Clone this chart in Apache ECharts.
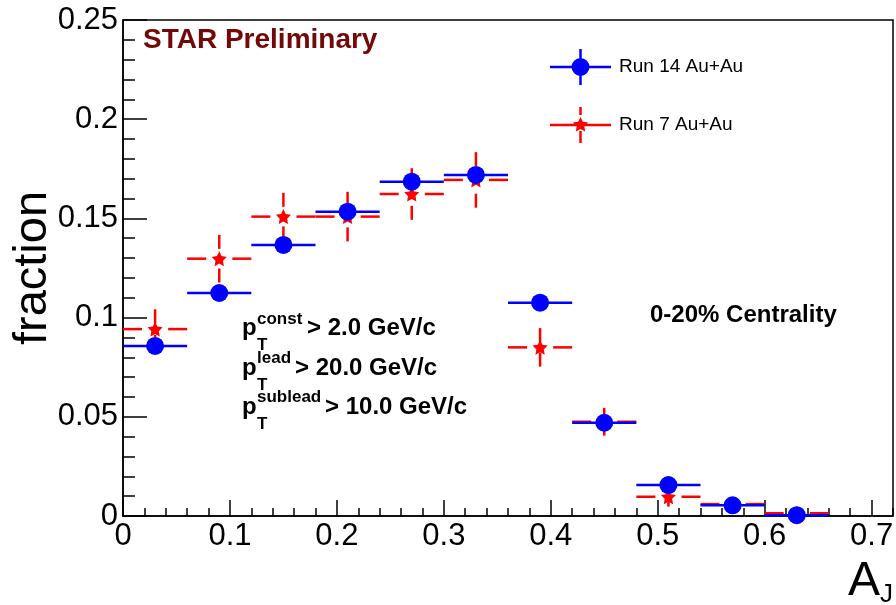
<!DOCTYPE html>
<html>
<head>
<meta charset="utf-8">
<script src="https://cdn.jsdelivr.net/npm/echarts@6/dist/echarts.min.js"></script>
<style>
html,body{margin:0;padding:0;background:#fff;}
#chart{width:896px;height:605px;}
</style>
</head>
<body>
<div id="chart"></div>
<script>
// ---- data ----
const binCenters = [0.03, 0.09, 0.15, 0.21, 0.27, 0.33, 0.39, 0.45, 0.51, 0.57, 0.63];
const binHalfWidth = 0.03;
const run14Fraction = [0.0857, 0.1124, 0.1366, 0.1534, 0.1685, 0.1719, 0.1075, 0.0470, 0.0156, 0.0054, 0.0004];
const run14Error    = [0.0025, 0.0025, 0.0025, 0.0025, 0.0025, 0.0025, 0.0020, 0.0020, 0.0015, 0.0010, 0.0008];
const run7Fraction  = [0.0942, 0.1297, 0.1509, 0.1509, 0.1623, 0.1694, 0.0850, 0.0475, 0.0097, 0.0060, 0.0014];
const run7Error     = [0.0100, 0.0120, 0.0120, 0.0125, 0.0130, 0.0140, 0.0097, 0.0070, 0.0050, 0.0030, 0.0020];
const xTickLabels = ['0', '0.1', '0.2', '0.3', '0.4', '0.5', '0.6', '0.7'];
const yTickLabels = ['0', '0.05', '0.1', '0.15', '0.2', '0.25'];
const seriesNames = ['Run 14 Au+Au', 'Run 7 Au+Au'];

const FONT = "'Liberation Sans', Arial, Helvetica, sans-serif";
const BLUE = '#0000ff', RED = '#ff0000';

const run14Data = binCenters.map((x, i) => [x, run14Fraction[i], run14Error[i]]);
const run7Data = binCenters.map((x, i) => [x, run7Fraction[i], run7Error[i]]);

const starPath = 'path://M10,0L12.94,5.95L19.51,6.91L14.76,11.55L15.88,18.09L10,15L4.12,18.09L5.24,11.55L0.49,6.91L7.06,5.95Z';
const blueIcon = 'path://M0,16.75h61v2.5H0z M29.25,0h2.5v36h-2.5z M39.5,18a9,9 0 1,1 -18,0a9,9 0 1,1 18,0z';
const redIcon = 'path://M0,16.75h61v2.5H0z M29.25,0h2.5v8h-2.5z M29.25,24h2.5v12h-2.5z M30.5,10L32.85,14.76L38.11,15.53L34.31,19.24L35.2,24.47L30.5,22L25.8,24.47L26.69,19.24L22.89,15.53L28.15,14.76Z';

function blueBars(params, api) {
  const x = api.value(0), y = api.value(1), e = api.value(2);
  const l = api.coord([x - binHalfWidth, y]), r = api.coord([x + binHalfWidth, y]);
  const t = api.coord([x, y + e]), b = api.coord([x, y - e]);
  const st = { stroke: BLUE, lineWidth: 2.5 };
  return { type: 'group', children: [
    { type: 'line', shape: { x1: l[0], y1: l[1], x2: r[0], y2: r[1] }, style: st },
    { type: 'line', shape: { x1: t[0], y1: t[1], x2: b[0], y2: b[1] }, style: st }
  ]};
}
function redBars(params, api) {
  const x = api.value(0), y = api.value(1), e = api.value(2);
  const c = api.coord([x, y]);
  const l = api.coord([x - binHalfWidth, y]), r = api.coord([x + binHalfWidth, y]);
  const t = api.coord([x, y + e]), b = api.coord([x, y - e]);
  const sh = { stroke: RED, lineWidth: 2.5, lineDash: [19, 100] };
  const sv = { stroke: RED, lineWidth: 2.5, lineDash: [14, 100] };
  return { type: 'group', children: [
    { type: 'line', shape: { x1: l[0], y1: l[1], x2: c[0], y2: c[1] }, style: sh },
    { type: 'line', shape: { x1: r[0], y1: r[1], x2: c[0], y2: c[1] }, style: sh },
    { type: 'line', shape: { x1: t[0], y1: t[1], x2: c[0], y2: c[1] }, style: sv },
    { type: 'line', shape: { x1: b[0], y1: b[1], x2: c[0], y2: c[1] }, style: sv }
  ]};
}

const chart = echarts.init(document.getElementById('chart'), null, { renderer: 'canvas' });
const axisLineStyle = { color: '#000', width: 1.5 };

const option = {
  animation: false,
  backgroundColor: '#fff',
  textStyle: { fontFamily: FONT },
  grid: { left: 123, right: 3, top: 20, bottom: 89, containLabel: false, outerBoundsMode: 'none',
          show: true, borderColor: '#000', borderWidth: 1.5, backgroundColor: 'transparent' },
  legend: {
    orient: 'vertical', left: 545, top: 44, itemWidth: 61, itemHeight: 36, itemGap: 22,
    textStyle: { fontFamily: FONT, fontSize: 19, color: '#000', padding: [0, 0, 0, 3] },
    data: [{ name: seriesNames[0], icon: blueIcon }, { name: seriesNames[1], icon: redIcon }]
  },
  xAxis: [
    { // minor ticks
      type: 'value', position: 'bottom', min: 0, max: 0.72, interval: 0.02,
      axisLine: { show: false }, axisTick: { show: true, inside: true, length: 8, lineStyle: axisLineStyle },
      axisLabel: { show: false }, splitLine: { show: false }
    },
    { // major ticks + labels
      type: 'value', position: 'bottom', min: 0, max: 0.72, interval: 0.1,
      axisLine: { show: true, lineStyle: axisLineStyle },
      axisTick: { show: true, inside: true, length: 16, lineStyle: axisLineStyle },
      axisLabel: {
        show: true, margin: 5, fontSize: 31, color: '#000', fontFamily: FONT, showMaxLabel: false,
        formatter: v => { const i = Math.round(v * 10); return Math.abs(v * 10 - i) < 1e-6 ? xTickLabels[i] : ''; }
      },
      splitLine: { show: false },
      name: '{a|A}{j|J}', nameLocation: 'end', nameGap: 0, nameMoveOverlap: false,
      nameTextStyle: {
        align: 'right', verticalAlign: 'top', padding: [42, 0, 0, 0],
        rich: {
          a: { fontSize: 48, fontFamily: FONT, color: '#000', verticalAlign: 'top' },
          j: { fontSize: 26, fontFamily: FONT, color: '#000', verticalAlign: 'bottom', padding: [24, 0, 0, 0] }
        }
      }
    }
  ],
  yAxis: [{
    type: 'value', min: 0, max: 0.25, interval: 0.05,
    axisLine: { show: true, lineStyle: axisLineStyle },
    axisTick: { show: true, inside: true, length: 24, lineStyle: axisLineStyle },
    minorTick: { show: true, splitNumber: 5, length: 12, lineStyle: axisLineStyle },
    axisLabel: { margin: 5, fontSize: 31, color: '#000', fontFamily: FONT,
      formatter: v => yTickLabels[Math.round(v / 0.05)] },
    splitLine: { show: false }, minorSplitLine: { show: false },
    name: 'fraction', nameLocation: 'middle', nameGap: 66, nameRotate: 90, nameMoveOverlap: false,
    nameTextStyle: { fontSize: 47, color: '#000', fontFamily: FONT }
  }],
  series: [
    { name: seriesNames[1], type: 'custom', xAxisIndex: 1, yAxisIndex: 0, renderItem: redBars, data: run7Data, z: 2, itemStyle: { color: RED } },
    { name: seriesNames[1], type: 'scatter', xAxisIndex: 1, yAxisIndex: 0, symbol: starPath, symbolSize: 15, data: run7Data, itemStyle: { color: RED, opacity: 1 }, z: 3 },
    { name: seriesNames[0], type: 'custom', xAxisIndex: 1, yAxisIndex: 0, renderItem: blueBars, data: run14Data, z: 4, itemStyle: { color: BLUE } },
    { name: seriesNames[0], type: 'scatter', xAxisIndex: 1, yAxisIndex: 0, symbol: 'circle', symbolSize: 18, data: run14Data, itemStyle: { color: BLUE, opacity: 1 }, z: 5 }
  ],
  graphic: [
    { type: 'text', left: 143, top: 26, style: { text: 'STAR Preliminary', font: "bold 28px " + FONT, fill: '#720808' } },
    { type: 'text', left: 650, top: 303, style: { text: '0-20% Centrality', font: "bold 24px " + FONT, fill: '#000' } },
    // p_T cut annotations
    { type: 'text', x: 242, y: 328, style: { text: 'p', font: "bold 24px " + FONT, fill: '#000', verticalAlign: 'middle' } },
    { type: 'text', x: 257, y: 319, style: { text: 'const', font: "bold 17px " + FONT, fill: '#000', verticalAlign: 'middle' } },
    { type: 'text', x: 257, y: 345, style: { text: 'T', font: "bold 17px " + FONT, fill: '#000', verticalAlign: 'middle' } },
    { type: 'text', x: 307, y: 328, style: { text: '> 2.0 GeV/c', font: "bold 24px " + FONT, fill: '#000', verticalAlign: 'middle' } },
    { type: 'text', x: 242, y: 368, style: { text: 'p', font: "bold 24px " + FONT, fill: '#000', verticalAlign: 'middle' } },
    { type: 'text', x: 257, y: 358, style: { text: 'lead', font: "bold 17px " + FONT, fill: '#000', verticalAlign: 'middle' } },
    { type: 'text', x: 257, y: 385, style: { text: 'T', font: "bold 17px " + FONT, fill: '#000', verticalAlign: 'middle' } },
    { type: 'text', x: 295, y: 368, style: { text: '> 20.0 GeV/c', font: "bold 24px " + FONT, fill: '#000', verticalAlign: 'middle' } },
    { type: 'text', x: 242, y: 407, style: { text: 'p', font: "bold 24px " + FONT, fill: '#000', verticalAlign: 'middle' } },
    { type: 'text', x: 257, y: 397, style: { text: 'sublead', font: "bold 17px " + FONT, fill: '#000', verticalAlign: 'middle' } },
    { type: 'text', x: 257, y: 424, style: { text: 'T', font: "bold 17px " + FONT, fill: '#000', verticalAlign: 'middle' } },
    { type: 'text', x: 325, y: 407, style: { text: '> 10.0 GeV/c', font: "bold 24px " + FONT, fill: '#000', verticalAlign: 'middle' } }
  ]
};
chart.setOption(option);
</script>
</body>
</html>
